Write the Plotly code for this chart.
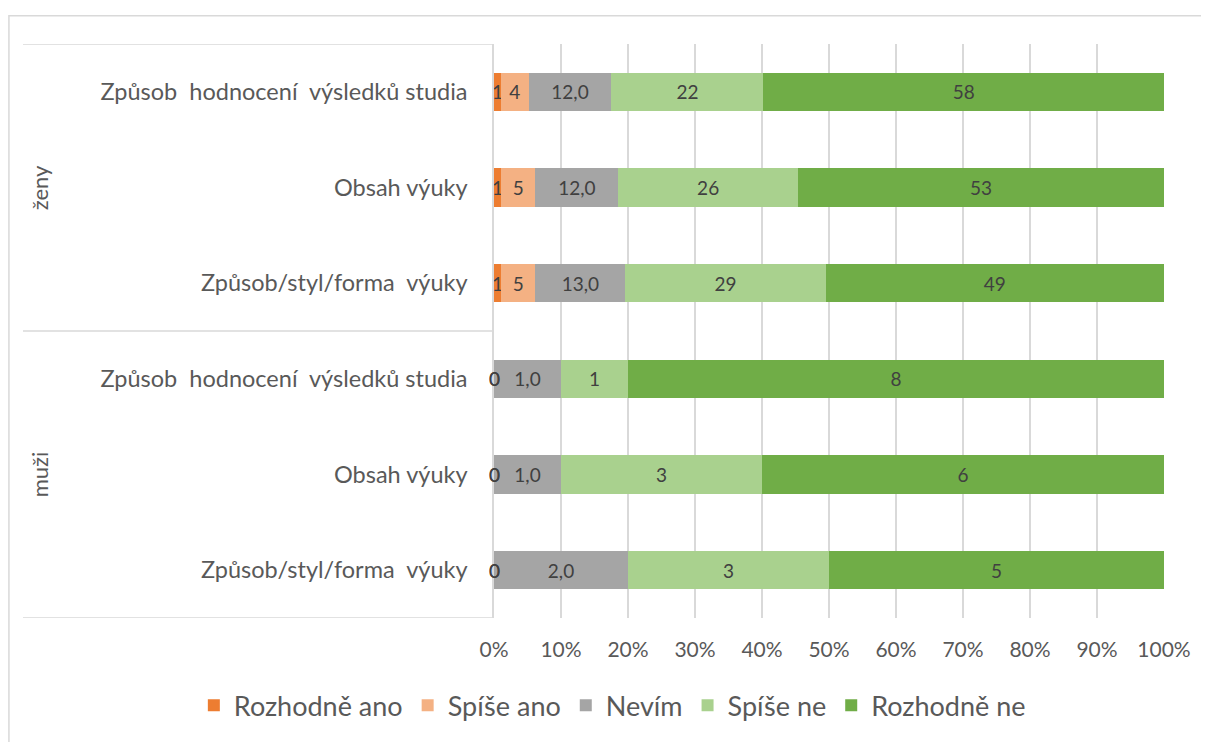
import plotly.graph_objects as go

# Rows from top to bottom
groups = ["ženy", "ženy", "ženy", "muži", "muži", "muži"]
items = [
    "Způsob\u00a0 hodnocení\u00a0 výsledků studia",
    "Obsah výuky",
    "Způsob/styl/forma\u00a0 výuky",
    "Způsob\u00a0 hodnocení\u00a0 výsledků studia",
    "Obsah výuky",
    "Způsob/styl/forma\u00a0 výuky",
]

series_names = ["Rozhodně ano", "Spíše ano", "Nevím", "Spíše ne", "Rozhodně ne"]
rozhodne_ano = [1, 1, 1, 0, 0, 0]
spise_ano = [4, 5, 5, 0, 0, 0]
nevim = [12, 12, 13, 1, 1, 2]
spise_ne = [22, 26, 29, 1, 3, 3]
rozhodne_ne = [58, 53, 49, 8, 6, 5]

colors = ["#ED7D31", "#F4B183", "#A5A5A5", "#A9D18E", "#70AD47"]
series = [rozhodne_ano, spise_ano, nevim, spise_ne, rozhodne_ne]

FONT = "Lato"
TXT = "#595959"
LBL = "#404040"

rows = list(range(len(items)))
totals = [sum(s[i] for s in series) for i in rows]

fig = go.Figure()
annotations = []
cum = [0.0] * len(rows)

for name, vals, col in zip(series_names, series, colors):
    if name == "Nevím":
        labels = [f"{v},0" for v in vals]
    else:
        labels = [str(v) for v in vals]
    fig.add_trace(go.Bar(
        y=rows,
        x=vals,
        name=name,
        orientation="h",
        marker=dict(color=col, line=dict(width=0)),
        text=labels,
        textposition="inside",
        insidetextanchor="middle",
        insidetextfont=dict(family=FONT, size=19, color=LBL),
        cliponaxis=False,
    ))
    # zero-width segments: Excel still prints the label at the segment start
    for i in rows:
        if vals[i] == 0:
            annotations.append(dict(
                x=cum[i] / totals[i] * 100, y=i, xref="x", yref="y",
                text="0", showarrow=False,
                font=dict(family=FONT, size=19, color=LBL),
            ))
        cum[i] += vals[i]

# group labels (rotated) on the left
for g in ["ženy", "muži"]:
    idx = [i for i in rows if groups[i] == g]
    annotations.append(dict(
        x=-0.678, y=sum(idx) / len(idx), xref="paper", yref="y",
        xanchor="center", yanchor="middle",
        text=g, textangle=-90, showarrow=False,
        font=dict(family=FONT, size=22, color=TXT),
    ))

line_col = "#D9D9D9"
shapes = [
    # outer chart frame
    dict(type="rect", xref="paper", yref="paper",
         x0=-0.724, x1=1.1, y0=-0.3, y1=1.049,
         line=dict(color=line_col, width=1.5)),
]
# category box lines: top, group divider, bottom
for yv in [-0.5, 2.5, 5.5]:
    shapes.append(dict(type="line", xref="paper", yref="y",
                       x0=-0.703, x1=0, y0=yv, y1=yv,
                       line=dict(color=line_col, width=1.5)))

fig.update_layout(
    width=1201,
    height=734,
    barmode="stack",
    barnorm="percent",
    bargap=0.6,
    paper_bgcolor="white",
    plot_bgcolor="white",
    margin=dict(l=486, r=45, t=36, b=122),
    font=dict(family=FONT, size=20, color=TXT),
    uniformtext=dict(minsize=19, mode="show"),
    showlegend=True,
    legend=dict(
        orientation="h",
        x=-0.448, xanchor="left",
        y=-0.153, yanchor="middle",
        font=dict(family=FONT, size=27, color=TXT),
        traceorder="normal",
        itemwidth=30,
    ),
    xaxis=dict(
        range=[0, 100],
        dtick=10,
        ticksuffix="%",
        showgrid=True,
        gridcolor=line_col,
        gridwidth=1.5,
        zeroline=False,
        showline=False,
        ticks="",
        ticklabelstandoff=17,
        tickfont=dict(family=FONT, size=21, color=TXT),
        fixedrange=True,
    ),
    yaxis=dict(
        tickmode="array",
        tickvals=rows,
        ticktext=items,
        range=[5.5, -0.5],
        showgrid=False,
        zeroline=False,
        showline=True,
        linecolor=line_col,
        linewidth=1.5,
        ticks="",
        ticklabelstandoff=20,
        tickfont=dict(family=FONT, size=23.5, color=TXT),
        fixedrange=True,
    ),
    annotations=annotations,
    shapes=shapes,
)

fig.write_html("out.html")
